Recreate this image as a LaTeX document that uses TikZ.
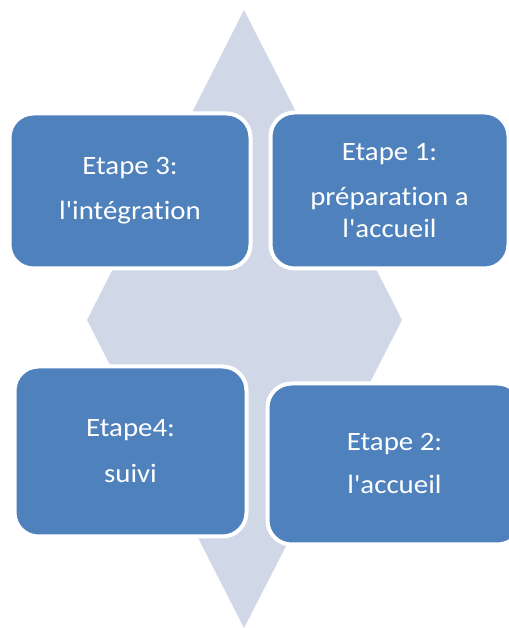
\documentclass[tikz,border=0pt]{standalone}
\usepackage{fontspec}
\setmainfont{Carlito}[Ligatures={TeXOff,NoCommon},FakeStretch=1.09]
\definecolor{bleu}{HTML}{4F81BD}
\definecolor{fond}{HTML}{D0D8E8}

\begin{document}
\begin{tikzpicture}[x=1pt,y=1pt,
    losange/.style={fill=fond},
    etape/.style={draw=white,line width=4pt,fill=bleu,rounded corners=24pt,
        text=white,align=center,inner sep=0pt,
        font=\fontsize{26.5}{32}\selectfont}
]
    \useasboundingbox (0,0) rectangle (508,628);

    % fond : losange
    \fill[losange] (244,618) -- (402,308) -- (244,0) -- (87,308) -- cycle;

    \node[etape,minimum width=241pt,minimum height=155pt] (etape3) at (130,437)
        {Etape 3:\\[13pt]l'intégration};
    \node[etape,minimum width=238pt,minimum height=156pt] (etape1) at (389.5,437.5)
        {Etape 1:\\[13pt]préparation a\\l'accueil};
    \node[etape,minimum width=232pt,minimum height=170pt] (etape4) at (130.5,176.5)
        {Etape4:\\[14pt]suivi};
    \node[etape,minimum width=254pt,minimum height=161pt] (etape2) at (394.5,164)
        {Etape 2:\\[11pt]l'accueil};

\end{tikzpicture}
\end{document}
